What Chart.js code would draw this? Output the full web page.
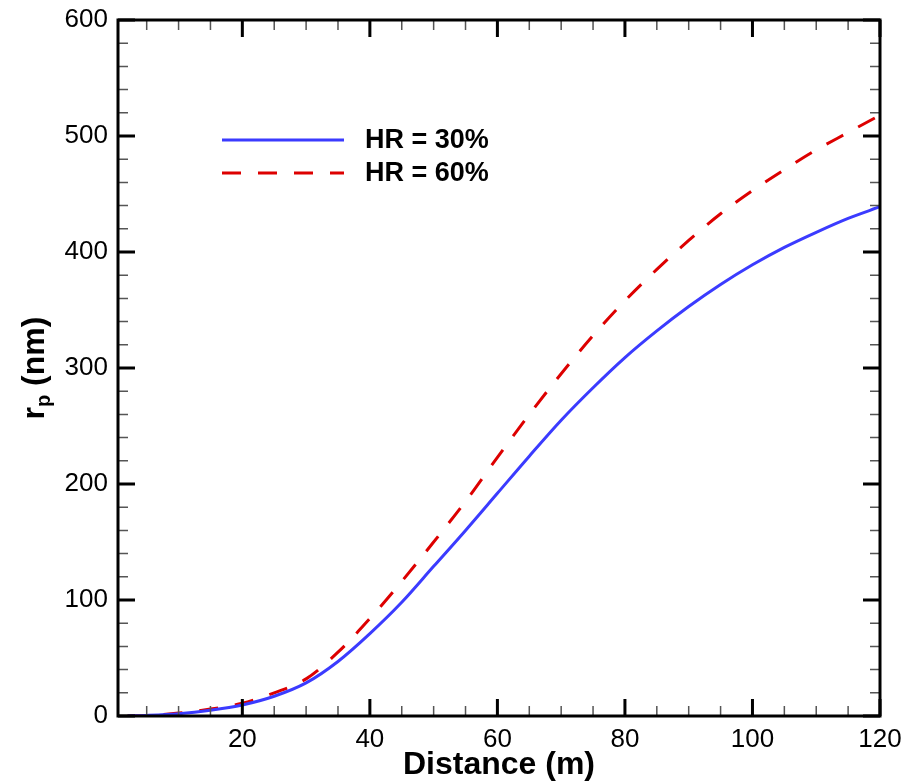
<!DOCTYPE html>
<html lang="en">
<head>
<meta charset="UTF-8">
<title>rp vs distance</title>
<script src="https://cdn.jsdelivr.net/npm/chart.js"></script>
<style>
  body { margin: 0; background: #fff; }
</style>
</head>
<body>
<canvas id="myChart" width="906" height="783"></canvas>
<script>
// data
const distance = [2, 5, 10, 15, 20, 25, 30, 35, 40, 45, 50, 55, 60, 65, 70, 75, 80, 85, 90, 95, 100, 105, 110, 115, 120];
const hr30 = [0, 0.5, 2, 5, 9.5, 17, 28.5, 47, 71, 98, 129, 160, 192, 224, 255, 283, 309, 332, 353, 372, 389, 404, 417, 429, 439];
const hr60 = [0, 0.5, 2.5, 6, 11, 20, 32, 55, 84, 116, 150, 185, 223, 260, 295, 328, 358, 385, 410, 433, 453, 471, 488, 503, 518];
const seriesNames = ["HR = 30%", "HR = 60%"];
const xTicks = [20, 40, 60, 80, 100, 120];
const yTicks = [0, 100, 200, 300, 400, 500, 600];

const blue = "#3b3bff";
const red = "#dd0000";
const fam = "'Liberation Sans', Arial, sans-serif";

function pts(ys) {
  return distance.map((d, i) => ({ x: d, y: ys[i] }));
}

// inward ticks, frame, titles, legend
const frame = {
  id: "frame",
  afterDatasetsDraw(chart) {
    const ctx = chart.ctx;
    const a = chart.chartArea;
    const xs = chart.scales.x, ys = chart.scales.y;
    ctx.save();

    // minor ticks
    ctx.lineWidth = 1.5;
    ctx.strokeStyle = "#555";
    for (let v = 5; v <= 120; v += 5) {
      if (v % 20 === 0) continue;
      const px = xs.getPixelForValue(v);
      ctx.beginPath();
      ctx.moveTo(px, a.bottom); ctx.lineTo(px, a.bottom - 10);
      ctx.moveTo(px, a.top); ctx.lineTo(px, a.top + 10);
      ctx.stroke();
    }
    for (let v = 20; v < 600; v += 20) {
      if (v % 100 === 0) continue;
      const py = ys.getPixelForValue(v);
      ctx.beginPath();
      ctx.moveTo(a.left, py); ctx.lineTo(a.left + 10, py);
      ctx.moveTo(a.right, py); ctx.lineTo(a.right - 10, py);
      ctx.stroke();
    }

    // major ticks
    ctx.strokeStyle = "#000";
    ctx.lineWidth = 3;
    xTicks.forEach(v => {
      const px = xs.getPixelForValue(v);
      ctx.beginPath();
      ctx.moveTo(px, a.bottom); ctx.lineTo(px, a.bottom - 17);
      ctx.moveTo(px, a.top); ctx.lineTo(px, a.top + 17);
      ctx.stroke();
    });
    yTicks.forEach(v => {
      const py = ys.getPixelForValue(v);
      ctx.beginPath();
      ctx.moveTo(a.left, py); ctx.lineTo(a.left + 17, py);
      ctx.moveTo(a.right, py); ctx.lineTo(a.right - 17, py);
      ctx.stroke();
    });

    ctx.strokeRect(a.left, a.top, a.right - a.left, a.bottom - a.top);

    // x title
    ctx.fillStyle = "#000";
    ctx.font = "bold 32px " + fam;
    ctx.textAlign = "center";
    ctx.textBaseline = "middle";
    ctx.fillText("Distance (m)", (a.left + a.right) / 2, 765);

    // y title with subscript p
    ctx.save();
    ctx.translate(32, (a.top + a.bottom) / 2);
    ctx.rotate(-Math.PI / 2);
    ctx.textBaseline = "alphabetic";
    ctx.textAlign = "left";
    const big = "bold 32px " + fam;
    const small = "bold 20px " + fam;
    ctx.font = big;
    const w1 = ctx.measureText("r").width;
    const w3 = ctx.measureText(" (nm)").width;
    ctx.font = small;
    const w2 = ctx.measureText("p").width;
    const x0 = -(w1 + w2 + w3) / 2;
    const base = 12;
    ctx.font = big;
    ctx.fillText("r", x0, base);
    ctx.font = small;
    ctx.fillText("p", x0 + w1, base + 6);
    ctx.font = big;
    ctx.fillText(" (nm)", x0 + w1 + w2, base);
    ctx.restore();

    // legend
    const rows = [
      { y: 140, color: blue, dash: [] },
      { y: 173, color: red, dash: [19, 17] }
    ];
    rows.forEach((r, i) => {
      ctx.beginPath();
      ctx.setLineDash(r.dash);
      ctx.strokeStyle = r.color;
      ctx.lineWidth = 3;
      ctx.moveTo(222, r.y); ctx.lineTo(344, r.y);
      ctx.stroke();
      ctx.setLineDash([]);
      ctx.fillStyle = "#000";
      ctx.font = "bold 27px " + fam;
      ctx.textAlign = "left";
      ctx.textBaseline = "middle";
      ctx.fillText(seriesNames[i], 365, r.y + 1);
    });

    ctx.restore();
  }
};

const ctx = document.getElementById("myChart").getContext("2d");
const chart = new Chart(ctx, {
  type: "line",
  data: {
    datasets: [
      {
        label: seriesNames[0],
        data: pts(hr30),
        borderColor: blue,
        borderWidth: 3,
        pointRadius: 0,
        cubicInterpolationMode: "monotone",
        fill: false
      },
      {
        label: seriesNames[1],
        data: pts(hr60),
        borderColor: red,
        borderWidth: 3,
        borderDash: [19, 17],
        pointRadius: 0,
        cubicInterpolationMode: "monotone",
        fill: false
      }
    ]
  },
  options: {
    responsive: false,
    animation: false,
    layout: { padding: { top: 20, right: 26, left: 0, bottom: 0 } },
    plugins: {
      legend: { display: false },
      tooltip: { enabled: false }
    },
    scales: {
      x: {
        type: "linear",
        min: 0.5,
        max: 120,
        grid: { display: false },
        border: { display: false },
        afterBuildTicks: s => { s.ticks = xTicks.map(v => ({ value: v })); },
        afterFit: s => { s.height = 67; s.paddingLeft = 0; s.paddingRight = 0; },
        ticks: {
          color: "#000",
          padding: 0,
          maxRotation: 0,
          font: { size: 26, family: fam }
        }
      },
      y: {
        min: 0,
        max: 600,
        grid: { display: false },
        border: { display: false },
        afterBuildTicks: s => { s.ticks = yTicks.map(v => ({ value: v })); },
        afterFit: s => { s.width = 118; s.paddingTop = 0; s.paddingBottom = 0; },
        ticks: {
          color: "#000",
          padding: 2,
          font: { size: 26, family: fam }
        }
      }
    }
  },
  plugins: [frame]
});
</script>
</body>
</html>
